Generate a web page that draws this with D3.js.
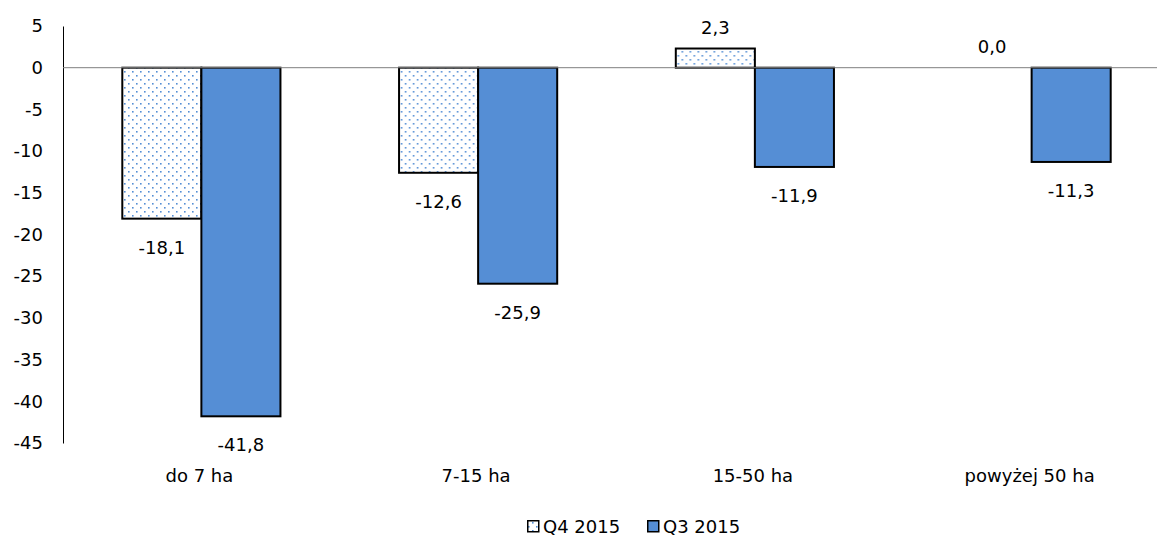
<!DOCTYPE html>
<html>
<head>
<meta charset="utf-8">
<script src="https://cdn.jsdelivr.net/npm/d3@7"></script>
<style>
  body { margin: 0; background: #fff; }
  text { font-family: "DejaVu Sans", sans-serif; font-size: 18px; fill: #000; }
</style>
</head>
<body>
<script>
var margin = {left: 63, right: 0, top: 26, bottom: 95};
const width = 1157, height = 538;
const innerWidth = width - margin.left - margin.right;
const innerHeight = height - margin.top - margin.bottom;
const plotWidth = 1107; // category bands run slightly past the right edge

// farm size groups
const categories = ['do 7 ha', '7-15 ha', '15-50 ha', 'powyżej 50 ha'];
const seriesNames = ['Q4 2015', 'Q3 2015'];
const q4 = [-18.1, -12.6, 2.3, 0.0];
const q3 = [-41.8, -25.9, -11.9, -11.3];
const yTicks = [5, 0, -5, -10, -15, -20, -25, -30, -35, -40, -45];

const blue = "#558ED5";

const svg = d3.select("body").append("svg")
  .attr("width", width)
  .attr("height", height);

const defs = svg.append("defs");
const pat = defs.append("pattern")
  .attr("id", "dots")
  .attr("patternUnits", "userSpaceOnUse")
  .attr("width", 8).attr("height", 8);
pat.append("rect").attr("width", 8).attr("height", 8).attr("fill", "#fff");
pat.append("rect").attr("x", 1).attr("y", 1).attr("width", 1.6).attr("height", 1.6).attr("fill", blue);
pat.append("rect").attr("x", 5).attr("y", 5).attr("width", 1.6).attr("height", 1.6).attr("fill", blue);

const g = svg.append("g")
  .attr("transform", `translate(${margin.left},${margin.top})`);

const x = d3.scaleBand()
  .domain(categories)
  .range([0, plotWidth]);

const xs = d3.scaleBand()
  .domain(seriesNames)
  .range([0, x.bandwidth()])
  .paddingOuter(0.75);

const y = d3.scaleLinear()
  .domain([-45, 5])
  .range([innerHeight, 0]);

// y axis
const yAxis = g.append("g")
  .call(d3.axisLeft(y).tickValues(yTicks).tickSize(0).tickPadding(20)
    .tickFormat(d => d));
yAxis.select(".domain").attr("stroke", "#000").attr("stroke-width", 1);
yAxis.selectAll("text").style("font-size", "18px").attr("fill", "#000")
  .style("font-family", "'DejaVu Sans', sans-serif");

const data = categories.map((c, i) => ({cat: c, values: [
  {key: seriesNames[0], v: q4[i]},
  {key: seriesNames[1], v: q3[i]}
]}));

const fmt = v => d3.format(".1f")(v).replace(".", ",").replace("−", "-");

const groups = g.selectAll(".grp")
  .data(data)
  .join("g")
    .attr("transform", d => `translate(${x(d.cat)},0)`);

groups.selectAll("rect")
  .data(d => d.values.filter(v => v.v !== 0))
  .join("rect")
    .attr("x", d => xs(d.key))
    .attr("width", xs.bandwidth())
    .attr("y", d => y(Math.max(0, d.v)))
    .attr("height", d => Math.abs(y(d.v) - y(0)))
    .attr("fill", d => d.key === seriesNames[0] ? "url(#dots)" : blue)
    .attr("stroke", "#000")
    .attr("stroke-width", 2);

groups.selectAll(".lbl")
  .data(d => d.values)
  .join("text")
    .attr("class", "lbl")
    .attr("x", d => xs(d.key) + xs.bandwidth() / 2)
    .attr("y", d => d.v >= 0 ? y(d.v) - 15 : y(d.v) + 35)
    .attr("text-anchor", "middle")
    .text(d => fmt(d.v));

// zero line
g.append("line")
  .attr("x1", 0).attr("x2", innerWidth)
  .attr("y1", y(0)).attr("y2", y(0))
  .attr("stroke", "#7f7f7f").attr("stroke-width", 1);

// x labels
g.selectAll(".xl")
  .data(categories)
  .join("text")
    .attr("class", "xl")
    .attr("x", d => x(d) + x.bandwidth() / 2 - 2)
    .attr("y", innerHeight + 39)
    .attr("text-anchor", "middle")
    .text(d => d);

// legend
const legend = svg.append("g").attr("transform", "translate(527,533)");
const legX = [0, 120];
seriesNames.forEach((s, i) => {
  const lg = legend.append("g").attr("transform", `translate(${legX[i]},0)`);
  lg.append("rect")
    .attr("x", 0.75).attr("y", -12.25).attr("width", 11).attr("height", 11)
    .attr("fill", i === 0 ? "url(#dots)" : blue)
    .attr("stroke", "#000").attr("stroke-width", 1.5);
  lg.append("text").attr("x", 16).attr("y", 0).text(s);
});
</script>
</body>
</html>
